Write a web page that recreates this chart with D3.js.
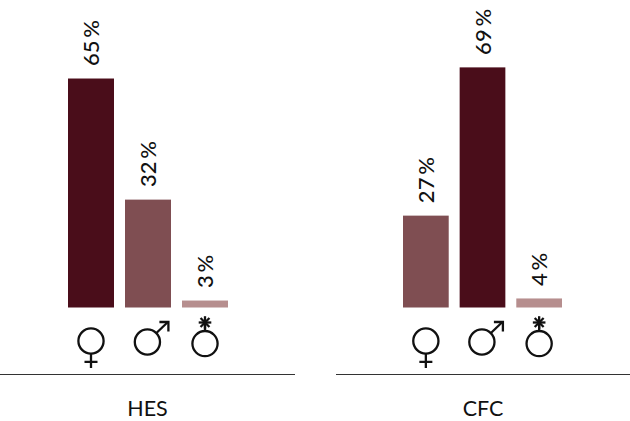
<!DOCTYPE html>
<html>
<head>
<meta charset="utf-8">
<script src="https://d3js.org/d3.v7.min.js"></script>
<style>
  html, body { margin: 0; padding: 0; background: #fff; }
  text { font-family: Lato, "Open Sans", sans-serif; fill: #111; }
</style>
</head>
<body>
<div id="canvas"></div>
<script>
"use strict"

let categories = ["female", "male", "other"];
let groupNames = ["HES", "CFC"];

// printed labels
let hesLabels = ["65\u2009%", "32\u2009%", "3\u2009%"];
let cfcLabels = ["27\u2009%", "69\u2009%", "4\u2009%"];

// bar lengths as measured on the picture, in percent
let hesValues = [65.8, 31, 2];
let cfcValues = [26.4, 69, 2.6];

let hesColors = ["#4a0d1a", "#7f4e52", "#b68e8e"];
let cfcColors = ["#7f4e52", "#4a0d1a", "#b68e8e"];

let drawingWidth = 630;
let drawingHeight = 421;
let baseY = 307.5;
let symbolStroke = 2.3;

let drawing = d3.select("#canvas")
    .append("svg")
    .attr("width", drawingWidth)
    .attr("height", drawingHeight)
    .style("display", "block");

let y = d3.scaleLinear()
    .domain([0, 100])
    .range([baseY, baseY - 348]);

/* one gender symbol, cx is the middle of the bar above it */
function drawSymbol(g, name, cx) {
    let s = g.append("g")
        .attr("fill", "none")
        .attr("stroke", "#111")
        .attr("stroke-width", symbolStroke);

    if (name === "female") {
        s.append("circle").attr("cx", cx).attr("cy", 341).attr("r", 12.6);
        s.append("path").attr("d", `M${cx},353.6V368M${cx - 6.5},361.8H${cx + 6.5}`);
    } else if (name === "male") {
        let mx = cx - 0.6;
        s.append("circle").attr("cx", mx).attr("cy", 342).attr("r", 12.6);
        s.append("path").attr("d", `M${mx + 9},333L${mx + 20.5},322`);
        s.append("path").attr("d", `M${mx + 12},322H${mx + 21}V331.5`);
    } else {
        let ay = 322.5;
        s.append("circle").attr("cx", cx).attr("cy", 343.6).attr("r", 12.6);
        s.append("path").attr("d", `M${cx},${ay}V331`);
        // asterisk on top
        [0, 45, 90, 135].forEach(function(a) {
            let dx = 6.3 * Math.sin(a * Math.PI / 180);
            let dy = 6.3 * Math.cos(a * Math.PI / 180);
            s.append("line")
                .attr("x1", cx - dx).attr("y1", ay - dy)
                .attr("x2", cx + dx).attr("y2", ay + dy);
        });
    }
}

function drawGroup(name, values, labels, colors, xRange, lineRange) {
    let x = d3.scaleBand()
        .domain(categories)
        .range(xRange)
        .paddingInner(0.193);

    let g = drawing.append("g");

    g.selectAll("rect")
        .data(categories)
        .join("rect")
        .attr("x", d => x(d))
        .attr("y", (d, i) => y(values[i]))
        .attr("width", x.bandwidth())
        .attr("height", (d, i) => baseY - y(values[i]))
        .attr("fill", (d, i) => colors[i]);

    g.selectAll("text.value")
        .data(categories)
        .join("text")
        .attr("class", "value")
        .attr("transform", (d, i) => `translate(${x(d) + x.bandwidth() / 2 + 8},${y(values[i]) - 12.5}) rotate(-90)`)
        .attr("font-size", 22)
        .attr("font-weight", 500)
        .text((d, i) => labels[i]);

    categories.forEach(function(c) {
        drawSymbol(g, c, x(c) + x.bandwidth() / 2);
    });

    g.append("line")
        .attr("x1", lineRange[0])
        .attr("x2", lineRange[1])
        .attr("y1", 374.5)
        .attr("y2", 374.5)
        .attr("stroke", "#333")
        .attr("stroke-width", 1);

    g.append("text")
        .attr("x", (lineRange[0] + lineRange[1]) / 2)
        .attr("y", 416)
        .attr("text-anchor", "middle")
        .attr("font-size", 21.5)
        .text(name);
}

drawGroup(groupNames[0], hesValues, hesLabels, hesColors, [68, 228], [0, 295]);
drawGroup(groupNames[1], cfcValues, cfcLabels, cfcColors, [403, 562], [336, 630]);
</script>
</body>
</html>
